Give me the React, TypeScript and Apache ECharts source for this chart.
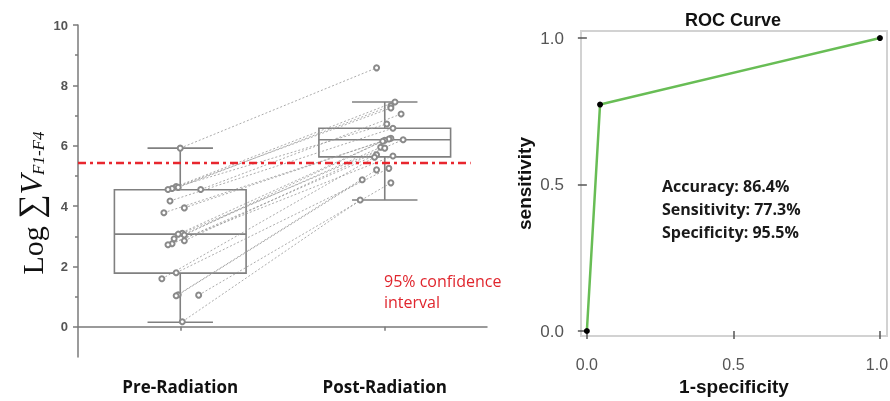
import React, { useEffect, useRef } from "react";
import * as echarts from "echarts";

// ---- Left panel data ----
const groupLabels = ["Pre-Radiation", "Post-Radiation"];
const groupX = [1, 2];
// box stats: [min, Q1, median, Q3, max]
const preBox = [0.15, 1.78, 3.07, 4.54, 5.92];
const postBox = [4.2, 5.63, 6.2, 6.58, 7.45];

const preValues = [5.92, 4.65, 4.62, 4.58, 4.55, 4.55, 4.17, 3.94, 3.78, 3.1, 3.07, 3.04, 2.92, 2.85, 2.75, 2.72, 1.79, 1.59, 1.06, 1.03, 1.05, 0.17];
const preX = [1.0, 0.98, 0.99, 0.96, 0.94, 1.1, 0.95, 1.02, 0.92, 1.01, 0.99, 1.02, 0.97, 1.02, 0.96, 0.94, 0.98, 0.91, 0.99, 0.98, 1.09, 1.01];
const postValues = [8.58, 7.45, 7.32, 7.25, 6.72, 7.05, 6.58, 6.25, 6.22, 6.2, 6.18, 6.15, 5.95, 5.92, 5.7, 5.66, 5.25, 5.62, 4.87, 5.2, 4.77, 4.2];
const postX = [1.96, 2.05, 2.03, 2.03, 2.01, 2.08, 2.04, 2.03, 2.02, 2.09, 2.0, 1.99, 1.98, 2.0, 1.96, 2.04, 2.02, 1.95, 1.89, 1.96, 2.03, 1.88];

const thresholdValue = 5.43;
const thresholdRange = [0.5, 2.42];

const leftYMajor = [0, 2, 4, 6, 8, 10];
const leftYMinor = [1, 3, 5, 7, 9];

// ---- Right panel data ----
const rocFpr = [0, 0.045, 1];
const rocTpr = [0, 0.773, 1];
const rocTicks = [0, 0.5, 1];
const statLines = ["Accuracy: 86.4%", "Sensitivity: 77.3%", "Specificity: 95.5%"];

const BOX_HALF = 0.322;
const CAP_HALF = 0.16;

export default function App() {
  const ref = useRef<HTMLDivElement>(null);
  useEffect(() => {
    if (!ref.current) return;
    document.body.style.margin = "0";
    document.body.style.overflow = "hidden";
    const chart = echarts.init(ref.current, null, { renderer: "svg" });

    const boxData = [
      [groupX[0], ...preBox],
      [groupX[1], ...postBox],
    ];

    const pairSeries = preValues.map((v, i) => ({
      type: "line",
      xAxisIndex: 0,
      yAxisIndex: 0,
      z: 3,
      data: [
        [preX[i], v],
        [postX[i], postValues[i]],
      ],
      symbol: "emptyCircle",
      symbolSize: 5,
      itemStyle: { color: "#8a8a8a", borderWidth: 0.9 },
      lineStyle: { color: "#959595", width: 0.8, type: [2, 2] },
      silent: true,
    }));

    const option: any = {
      animation: false,
      textStyle: { fontFamily: "Liberation Sans, Arial, sans-serif" },
      grid: [
        { left: 78, right: 403, top: 25, bottom: 44, outerBoundsMode: "none", containLabel: false },
        { left: 581, right: 3, top: 31, bottom: 65, show: true, borderColor: "#d2d2d2", borderWidth: 2, outerBoundsMode: "none", containLabel: false },
      ],
      xAxis: [
        {
          type: "value",
          gridIndex: 0,
          min: 0.5,
          max: 2.5,
          splitLine: { show: false },
          axisLine: { show: true, lineStyle: { color: "#7a7a7a", width: 1.5 } },
          axisTick: { show: true, customValues: groupX, length: 4, lineStyle: { color: "#7a7a7a", width: 1.5 } },
          axisLabel: {
            customValues: groupX,
            formatter: (v: number) => groupLabels[groupX.indexOf(v)] ?? "",
            fontFamily: "Open Sans",
            fontWeight: "bold",
            fontSize: 17,
            color: "#111",
            margin: 21,
          },
        },
        {
          type: "value",
          gridIndex: 1,
          min: -0.02,
          max: 1.024,
          offset: 9,
          splitLine: { show: false },
          axisLine: { show: false },
          axisTick: { show: true, customValues: rocTicks, length: 8, lineStyle: { color: "#555", width: 1.5 } },
          axisLabel: {
            customValues: rocTicks,
            formatter: (v: number) => (v === 1 ? "{r|" + v.toFixed(1) + "}" : v.toFixed(1)),
            fontSize: 16,
            color: "#555",
            margin: 11,
            rich: { r: { fontSize: 16, color: "#555", padding: [0, 6, 0, 0] } },
          },
          name: "1-specificity",
          nameLocation: "middle",
          nameGap: 20,
          nameTextStyle: { fontSize: 19, fontWeight: "bold", color: "#111" },
        },
      ],
      yAxis: [
        {
          type: "value",
          gridIndex: 0,
          position: "left",
          min: -1,
          max: 10,
          splitLine: { show: false },
          axisLine: { show: true, lineStyle: { color: "#7a7a7a", width: 1.5 } },
          axisTick: { show: true, customValues: leftYMajor, length: 5, lineStyle: { color: "#7a7a7a", width: 1.5 } },
          axisLabel: { customValues: leftYMajor, fontSize: 13, fontWeight: "bold", color: "#555", margin: 10 },
        },
        {
          type: "value",
          gridIndex: 0,
          position: "left",
          min: -1,
          max: 10,
          splitLine: { show: false },
          axisLine: { show: false },
          axisTick: { show: true, customValues: leftYMinor, length: 3, lineStyle: { color: "#7a7a7a", width: 1.5 } },
          axisLabel: { show: false },
        },
        {
          type: "value",
          gridIndex: 1,
          min: -0.017,
          max: 1.024,
          offset: 4,
          splitLine: { show: false },
          axisLine: { show: false },
          axisTick: { show: true, customValues: rocTicks, length: 9, lineStyle: { color: "#555", width: 1.5 } },
          axisLabel: {
            customValues: rocTicks,
            formatter: (v: number) => v.toFixed(1),
            fontSize: 17,
            color: "#555",
            margin: 13,
          },
          name: "sensitivity",
          nameLocation: "middle",
          nameGap: 43,
          nameTextStyle: { fontSize: 19, fontWeight: "bold", color: "#111" },
        },
      ],
      series: [
        {
          type: "custom",
          xAxisIndex: 0,
          yAxisIndex: 0,
          z: 1,
          data: boxData,
          renderItem: (params: any, api: any) => {
            const x = api.value(0);
            const mn = api.value(1);
            const q1 = api.value(2);
            const md = api.value(3);
            const q3 = api.value(4);
            const mx = api.value(5);
            const tl = api.coord([x - BOX_HALF, q3]);
            const br = api.coord([x + BOX_HALF, q1]);
            const c = api.coord([x, md]);
            const cl = api.coord([x - BOX_HALF, md]);
            const cr = api.coord([x + BOX_HALF, md]);
            const pMax = api.coord([x, mx]);
            const pMin = api.coord([x, mn]);
            const capL = api.coord([x - CAP_HALF, mx]);
            const capR = api.coord([x + CAP_HALF, mx]);
            const capL2 = api.coord([x - CAP_HALF, mn]);
            const capR2 = api.coord([x + CAP_HALF, mn]);
            const st = { stroke: "#808080", lineWidth: 1.6, fill: null };
            return {
              type: "group",
              children: [
                { type: "rect", shape: { x: tl[0], y: tl[1], width: br[0] - tl[0], height: br[1] - tl[1] }, style: { ...st, fill: "rgba(0,0,0,0)" } },
                { type: "line", shape: { x1: cl[0], y1: c[1], x2: cr[0], y2: c[1] }, style: st },
                { type: "line", shape: { x1: c[0], y1: tl[1], x2: c[0], y2: pMax[1] }, style: st },
                { type: "line", shape: { x1: c[0], y1: br[1], x2: c[0], y2: pMin[1] }, style: st },
                { type: "line", shape: { x1: capL[0], y1: capL[1], x2: capR[0], y2: capR[1] }, style: st },
                { type: "line", shape: { x1: capL2[0], y1: capL2[1], x2: capR2[0], y2: capR2[1] }, style: st },
              ],
            };
          },
        },
        ...pairSeries,
        {
          type: "line",
          xAxisIndex: 0,
          yAxisIndex: 0,
          z: 5,
          symbol: "none",
          data: thresholdRange.map((x) => [x, thresholdValue]),
          lineStyle: { color: "#e8262e", width: 2.5, type: [8, 4, 3, 4] },
          silent: true,
        },
        {
          type: "line",
          xAxisIndex: 1,
          yAxisIndex: 2,
          z: 4,
          clip: false,
          data: rocFpr.map((x, i) => [x, rocTpr[i]]),
          symbol: "circle",
          symbolSize: 6,
          itemStyle: { color: "#000" },
          lineStyle: { color: "#68bd55", width: 2.5 },
        },
      ],
      graphic: [
        {
          type: "text",
          x: 29,
          y: 203,
          rotation: Math.PI / 2,
          style: {
            text: "{a|Log }{s|∑}{v|V}{sub|F1-F4}",
            align: "center",
            verticalAlign: "middle",
            rich: {
              a: { fontFamily: "Liberation Serif", fontSize: 30, fill: "#111", verticalAlign: "bottom", lineHeight: 36 },
              s: { fontFamily: "Liberation Serif", fontSize: 34, fill: "#111", verticalAlign: "bottom", lineHeight: 36 },
              v: { fontFamily: "Liberation Serif", fontSize: 32, fontStyle: "italic", fill: "#111", verticalAlign: "bottom", lineHeight: 36 },
              sub: { fontFamily: "Liberation Serif", fontSize: 17, fontStyle: "italic", fill: "#111", verticalAlign: "bottom", lineHeight: 36, padding: [14, 0, 0, 0] },
            },
          },
        },
        {
          type: "text",
          x: 384,
          y: 270,
          style: {
            text: "95% confidence\ninterval",
            fontFamily: "Open Sans",
            fontSize: 16,
            lineHeight: 21,
            fill: "#e0262e",
          },
        },
        {
          type: "text",
          x: 733,
          y: 20,
          style: {
            text: "ROC Curve",
            fontFamily: "Liberation Sans",
            fontWeight: "bold",
            fontSize: 18,
            fill: "#111",
            align: "center",
            verticalAlign: "middle",
          },
        },
        {
          type: "text",
          x: 662,
          y: 174,
          style: {
            text: statLines.join("\n"),
            fontFamily: "Open Sans",
            fontWeight: "bold",
            fontSize: 16,
            lineHeight: 23,
            fill: "#1a1a1a",
          },
        },
      ],
    };
    chart.setOption(option);
    return () => chart.dispose();
  }, []);
  return <div ref={ref} style={{ position: "fixed", left: 0, top: 0, width: 890, height: 401 }} />;
}
